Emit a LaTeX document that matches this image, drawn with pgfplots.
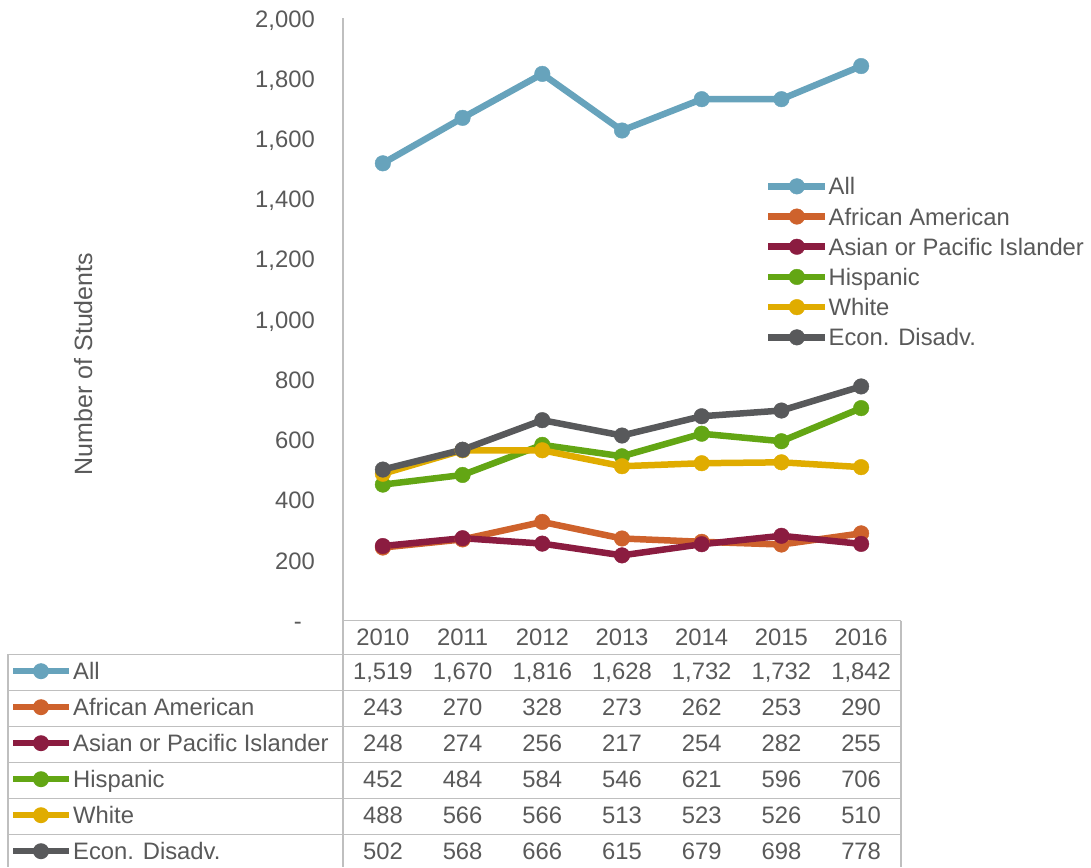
\documentclass[border=0pt]{standalone}
\usepackage{pgfplots}
\pgfplotsset{compat=1.18}
\usepackage{fontspec}
\setmainfont{Liberation Sans}
\definecolor{txt}{HTML}{595959}
\definecolor{gridc}{HTML}{BFBFBF}
\definecolor{cAll}{HTML}{67A3BC}
\definecolor{cAA}{HTML}{CE622C}
\definecolor{cAs}{HTML}{8B1C40}
\definecolor{cHi}{HTML}{63A614}
\definecolor{cWh}{HTML}{E0AC00}
\definecolor{cEc}{HTML}{58595B}
\newcommand{\tfont}{\fontsize{23.8}{28}\selectfont}
\begin{document}
\begin{tikzpicture}[tt/.style={text=txt, font=\tfont, inner sep=0pt, text height=17.1pt, text depth=0pt}]
\begin{axis}[
  at={(343pt,246.3pt)}, anchor=south west,
  scale only axis, width=558pt, height=602.2pt,
  xmin=-0.5, xmax=6.5, ymin=0, ymax=2000,
  axis lines*=left,
  axis line style={gridc, line width=1.5pt, -},
  xtick=\empty,
  ytick={0,200,...,2000},
  yticklabels={{-\hspace*{13pt}},200,400,600,800,{1,000},{1,200},{1,400},{1,600},{1,800},{2,000}},
  major tick length=0pt,
  yticklabel style={text=txt, font=\tfont, inner sep=0pt, text height=17.1pt, text depth=0pt, anchor=east, xshift=-28pt},
  clip=false,
  every axis plot/.append style={line width=6.5pt, mark=*, mark size=7.8pt, line join=round},
  legend style={at={(axis cs:4.793,1471.6)}, anchor=north west, draw=none, fill=none,
    inner sep=0pt, font=\tfont, text=txt, row sep=13.1pt,
    nodes={inner sep=0pt, text height=17.1pt, text depth=0pt},
    /tikz/every even column/.append style={column sep=3pt}},
  legend cell align=left,
  legend image code/.code={\draw[mark repeat=2,mark phase=2,#1] plot coordinates {(0pt,0pt)(28.5pt,0pt)(57pt,0pt)};},
]
\addplot[cAll, mark options={fill=cAll, line width=0.4pt}] coordinates {(0,1519)(1,1670)(2,1816)(3,1628)(4,1732)(5,1732)(6,1842)};
\addplot[cAA, mark options={fill=cAA, line width=0.4pt}] coordinates {(0,243)(1,270)(2,328)(3,273)(4,262)(5,253)(6,290)};
\addplot[cAs, mark options={fill=cAs, line width=0.4pt}] coordinates {(0,248)(1,274)(2,256)(3,217)(4,254)(5,282)(6,255)};
\addplot[cHi, mark options={fill=cHi, line width=0.4pt}] coordinates {(0,452)(1,484)(2,584)(3,546)(4,621)(5,596)(6,706)};
\addplot[cWh, mark options={fill=cWh, line width=0.4pt}] coordinates {(0,488)(1,566)(2,566)(3,513)(4,523)(5,526)(6,510)};
\addplot[cEc, mark options={fill=cEc, line width=0.4pt}] coordinates {(0,502)(1,568)(2,666)(3,615)(4,679)(5,698)(6,778)};
\legend{All, African American, Asian or Pacific Islander, Hispanic, White, Econ. Disadv.}
\end{axis}
\begin{scope}[shift={(0pt,867pt)}, x=1pt, y=-1pt]
  % table lines
  \draw[gridc, line width=1.5pt] (343,620.7) -- (343,867);
  \draw[gridc, line width=1.5pt] (901,620.7) -- (901,867);
  \draw[gridc, line width=1.5pt] (8,654.3) -- (8,867);
  \foreach \yy in {654.3,690.3,726.3,762.3,798.3,834.3}
    \draw[gridc, line width=1.5pt] (8,\yy) -- (901,\yy);
  % years
  \foreach \v [count=\i from 0] in {2010,2011,2012,2013,2014,2015,2016}
    \node[tt] at ({382.9+79.7*\i},636.7) {\v};
  % row labels with legend keys
  \foreach \yy/\clr/\name in {671.2/cAll/All, 707.2/cAA/African American, 743.2/cAs/Asian or Pacific Islander, 779.2/cHi/Hispanic, 815.2/cWh/White, 851.2/cEc/Econ. Disadv.}{
    \draw[\clr, line width=6.5pt] (13,\yy) -- (69,\yy);
    \fill[\clr] (41,\yy) circle[radius=8pt];
    \node[tt, anchor=west] at (73,\yy) {\name};
  }
  \foreach \v [count=\i from 0] in {{1,519},{1,670},{1,816},{1,628},{1,732},{1,732},{1,842}}
    \node[tt] at ({382.9+79.7*\i},671.2) {\v};
  \foreach \v [count=\i from 0] in {243,270,328,273,262,253,290}
    \node[tt] at ({382.9+79.7*\i},707.2) {\v};
  \foreach \v [count=\i from 0] in {248,274,256,217,254,282,255}
    \node[tt] at ({382.9+79.7*\i},743.2) {\v};
  \foreach \v [count=\i from 0] in {452,484,584,546,621,596,706}
    \node[tt] at ({382.9+79.7*\i},779.2) {\v};
  \foreach \v [count=\i from 0] in {488,566,566,513,523,526,510}
    \node[tt] at ({382.9+79.7*\i},815.2) {\v};
  \foreach \v [count=\i from 0] in {502,568,666,615,679,698,778}
    \node[tt] at ({382.9+79.7*\i},851.2) {\v};
  % y label
  \node[tt, font=\fontsize{25}{30}\selectfont, text height=18pt, rotate=90] at (83,364) {Number of Students};
\end{scope}
\pgfresetboundingbox
\path[use as bounding box] (0pt,0pt) rectangle (1091pt,867pt);
\end{tikzpicture}
\end{document}
